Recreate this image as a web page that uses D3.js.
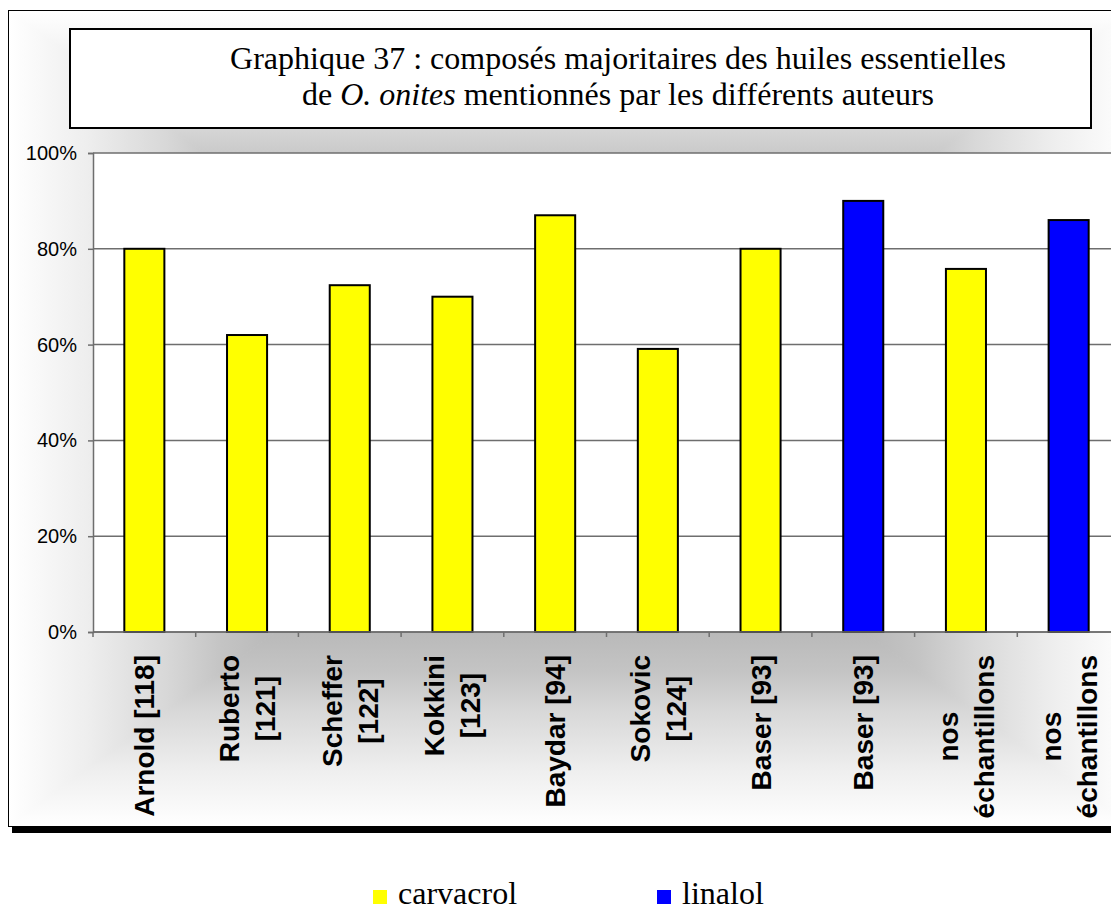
<!DOCTYPE html>
<html>
<head>
<meta charset="utf-8">
<script src="https://cdn.jsdelivr.net/npm/d3@7"></script>
<style>
  html, body { margin: 0; padding: 0; background: #ffffff; overflow: hidden; }
  svg { display: block; }
</style>
</head>
<body>
<svg id="chart" width="1111" height="906"></svg>
<script>
// ---- data ----
const categories = [
  "Arnold [118]", "Ruberto\n[121]", "Scheffer\n[122]", "Kokkini\n[123]",
  "Baydar [94]", "Sokovic\n[124]", "Baser [93]", "Baser [93]",
  "nos\néchantillons", "nos\néchantillons"
];
const values = [80, 62, 72.4, 70, 87, 59.1, 80, 90, 75.8, 86];
const compounds = ["carvacrol", "carvacrol", "carvacrol", "carvacrol", "carvacrol",
                   "carvacrol", "carvacrol", "linalol", "carvacrol", "linalol"];
const seriesNames = ["carvacrol", "linalol"];
const yTicks = [0, 20, 40, 60, 80, 100];
const titleLine1 = "Graphique 37 : composés majoritaires des huiles essentielles";
const titleLine2 = [["de ", false], ["O. onites", true], [" mentionnés par les différents auteurs", false]];

// ---- layout ----
const svg = d3.select("#chart");
const area = {x0: 8, y0: 10, x1: 1132, y1: 826};
const plot = {left: 93, right: 1120, top: 153, bottom: 632};
const color = d3.scaleOrdinal().domain(seriesNames).range(["#FFFF00", "#0000FF"]);

const defs = svg.append("defs");
const cx = (area.x0 + area.x1) / 2, cy = (area.y0 + area.y1) / 2;
const stops = [[0, "#8a8a8a"], [0.5, "#b6b6b6"], [0.62, "#c4c4c4"], [0.72, "#d8d8d8"], [0.86, "#eeeeee"], [1, "#ffffff"]];
function grad(id, x2, y2) {
  const g = defs.append("linearGradient").attr("id", id)
    .attr("gradientUnits", "userSpaceOnUse")
    .attr("x1", cx).attr("y1", cy).attr("x2", x2).attr("y2", y2);
  stops.forEach(s => g.append("stop").attr("offset", s[0]).attr("stop-color", s[1]));
}
grad("gTop", cx, area.y0);
grad("gBot", cx, area.y1);
grad("gLeft", area.x0, cy);
grad("gRight", area.x1, cy);

const bg = svg.append("g");
const tris = [
  ["gTop", [[area.x0, area.y0], [area.x1, area.y0], [cx, cy]]],
  ["gBot", [[area.x0, area.y1], [area.x1, area.y1], [cx, cy]]],
  ["gLeft", [[area.x0, area.y0], [area.x0, area.y1], [cx, cy]]],
  ["gRight", [[area.x1, area.y0], [area.x1, area.y1], [cx, cy]]]
];
tris.forEach(t => {
  bg.append("polygon").attr("points", t[1].map(p => p.join(",")).join(" "))
    .attr("fill", `url(#${t[0]})`).attr("stroke", `url(#${t[0]})`).attr("stroke-width", 1);
});

// shadow and outer frame
svg.append("rect").attr("x", 12).attr("y", 827).attr("width", 1130).attr("height", 6).attr("fill", "#000");
svg.append("rect").attr("x", area.x0 + 0.5).attr("y", area.y0 + 0.5)
  .attr("width", area.x1 - area.x0).attr("height", area.y1 - area.y0)
  .attr("fill", "none").attr("stroke", "#000").attr("stroke-width", 1);

// title box
svg.append("rect").attr("x", 70).attr("y", 29).attr("width", 1021).attr("height", 99)
  .attr("fill", "#fff").attr("stroke", "#000").attr("stroke-width", 2);
const serif = "'Times New Roman', 'Liberation Serif', serif";
svg.append("text").attr("x", 618).attr("y", 69).attr("text-anchor", "middle")
  .attr("font-family", serif).attr("font-size", 32).text(titleLine1);
const t2 = svg.append("text").attr("x", 618).attr("y", 105).attr("text-anchor", "middle")
  .attr("font-family", serif).attr("font-size", 32);
titleLine2.forEach(p => t2.append("tspan").attr("font-style", p[1] ? "italic" : "normal").text(p[0]));

// scales
const x = d3.scaleBand().domain(d3.range(categories.length)).range([plot.left, plot.right])
  .paddingInner(0.61).paddingOuter(0.305);
const xb = d3.scaleBand().domain(d3.range(categories.length)).range([plot.left, plot.right]).padding(0);
const y = d3.scaleLinear().domain([0, 100]).range([plot.bottom, plot.top]);

// plot area
svg.append("rect").attr("x", plot.left).attr("y", plot.top)
  .attr("width", plot.right - plot.left).attr("height", plot.bottom - plot.top)
  .attr("fill", "#fff");
svg.append("g").selectAll("line").data(yTicks).join("line")
  .attr("x1", plot.left).attr("x2", plot.right)
  .attr("y1", d => y(d)).attr("y2", d => y(d))
  .attr("stroke", "#6e6e6e").attr("stroke-width", 1.5);

// y axis
const yAxis = svg.append("g").attr("transform", `translate(${plot.left},0)`)
  .call(d3.axisLeft(y).tickValues(yTicks).tickSize(5).tickPadding(11).tickFormat(d => d + "%"));
yAxis.select(".domain").attr("stroke", "#6e6e6e").attr("stroke-width", 1.5);
yAxis.selectAll(".tick line").attr("stroke", "#6e6e6e").attr("stroke-width", 1.5);
yAxis.selectAll(".tick text").attr("font-family", "Arial, 'Liberation Sans', sans-serif")
  .attr("font-size", 20).attr("fill", "#000");

// bars
svg.append("g").selectAll("rect").data(values).join("rect")
  .attr("x", (d, i) => x(i)).attr("width", x.bandwidth())
  .attr("y", d => y(d)).attr("height", d => y(0) - y(d))
  .attr("fill", (d, i) => color(compounds[i]))
  .attr("stroke", "#000").attr("stroke-width", 2);

// x axis line & ticks
svg.append("line").attr("x1", plot.left).attr("x2", plot.right)
  .attr("y1", plot.bottom).attr("y2", plot.bottom).attr("stroke", "#6e6e6e").attr("stroke-width", 1.5);
svg.append("g").selectAll("line").data(d3.range(categories.length + 1)).join("line")
  .attr("x1", i => i < categories.length ? xb(i) : plot.right)
  .attr("x2", i => i < categories.length ? xb(i) : plot.right)
  .attr("y1", plot.bottom).attr("y2", plot.bottom + 5)
  .attr("stroke", "#6e6e6e").attr("stroke-width", 1.5);

// x labels (rotated, lines centred, block end-aligned at axis)
const sans = "Arial, 'Liberation Sans', sans-serif";
const lineGap = 36;
categories.forEach((c, i) => {
  const lines = c.split("\n");
  const g = svg.append("g")
    .attr("transform", `translate(${xb(i) + xb.bandwidth() / 2},655) rotate(-90)`);
  const texts = lines.map((l, k) => g.append("text")
    .attr("font-family", sans).attr("font-size", 28).attr("font-weight", "bold")
    .attr("text-anchor", "middle")
    .attr("y", 10 + (k - (lines.length - 1) / 2) * lineGap).text(l));
  const maxLen = d3.max(texts, t => t.node().getComputedTextLength());
  texts.forEach(t => t.attr("x", -maxLen / 2));
});

// legend
const legendX = [373, 657];
seriesNames.forEach((s, k) => {
  svg.append("rect").attr("x", legendX[k]).attr("y", 890).attr("width", 14).attr("height", 14)
    .attr("fill", color(s));
  svg.append("text").attr("x", legendX[k] + 25).attr("y", 904)
    .attr("font-family", serif).attr("font-size", 32).text(s);
});
</script>
</body>
</html>
